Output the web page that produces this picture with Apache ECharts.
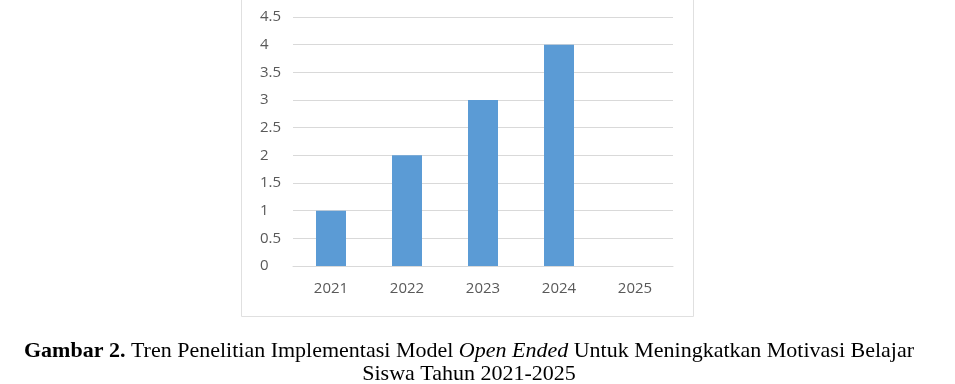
<!DOCTYPE html>
<html><head><meta charset="utf-8">
<script src="https://cdn.jsdelivr.net/npm/echarts@6/dist/echarts.min.js"></script>
<style>html,body{margin:0;padding:0;background:#fff}#c{width:955px;height:384px}</style>
</head><body><div id="c"></div>
<script>
const categories = ['2021', '2022', '2023', '2024', '2025'];
const values = [1, 2, 3, 4, 0];
const yTicks = { min: 0, max: 4.5, interval: 0.5 };

const chart = echarts.init(document.getElementById('c'), null, { renderer: 'canvas' });
chart.setOption({
  animation: false,
  backgroundColor: '#ffffff',
  grid: { left: 293, right: 955 - 673, top: 17, bottom: 384 - 266 },
  xAxis: {
    type: 'category', data: categories,
    axisLine: { show: true, lineStyle: { color: '#d9d9d9', width: 1 } },
    axisTick: { show: false },
    axisLabel: { color: '#595959', fontFamily: 'Open Sans', fontSize: 15, margin: 15 }
  },
  yAxis: {
    type: 'value', min: yTicks.min, max: yTicks.max, interval: yTicks.interval,
    axisLine: { show: false }, axisTick: { show: false },
    splitLine: { lineStyle: { color: '#d9d9d9', width: 1 } },
    axisLabel: { color: '#595959', fontFamily: 'Open Sans', fontSize: 15, align: 'left', margin: 33 }
  },
  series: [{
    type: 'bar', data: values, barWidth: 30,
    itemStyle: { color: '#5b9bd5' }
  }],
  title: {
    left: 464, top: 335, textAlign: 'center',
    text: '{b|Gambar 2.} Tren Penelitian Implementasi Model {i|Open Ended} Untuk Meningkatkan Motivasi Belajar\nSiswa Tahun 2021-2025',
    textStyle: {
      fontFamily: 'Liberation Serif', fontSize: 22, fontWeight: 'normal', color: '#000', lineHeight: 23,
      rich: {
        b: { fontFamily: 'Liberation Serif', fontSize: 22, fontWeight: 'bold', color: '#000', lineHeight: 23 },
        i: { fontFamily: 'Liberation Serif', fontSize: 22, fontStyle: 'italic', color: '#000', lineHeight: 23 }
      }
    }
  },
  graphic: [{
    type: 'rect', shape: { x: 241.5, y: -2, width: 452, height: 318.5 },
    style: { fill: 'none', stroke: '#e0e0e0', lineWidth: 1 }, silent: true
  }]
});
</script></body></html>
